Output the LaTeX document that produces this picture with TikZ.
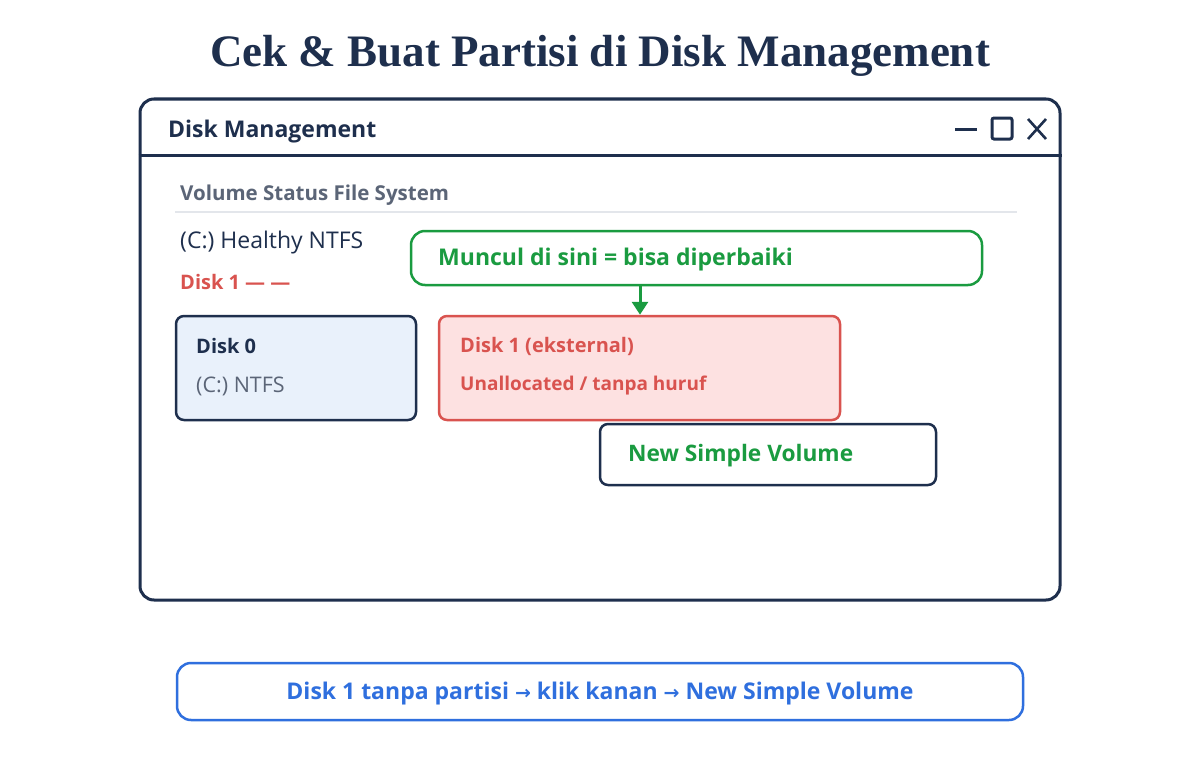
\documentclass[tikz,border=0pt]{standalone}
\usepackage{fontspec}
\setmainfont{Open Sans}
\newfontfamily\titlefont{Liberation Serif}
\newfontfamily\symfont{DejaVu Sans}
\usetikzlibrary{arrows.meta}
\definecolor{navy}{HTML}{1E2F4D}
\definecolor{grayt}{HTML}{5B6577}
\definecolor{redc}{HTML}{D9534F}
\definecolor{redfill}{HTML}{FDE1E1}
\definecolor{bluefill}{HTML}{E9F1FB}
\definecolor{greenc}{HTML}{1A9B40}
\definecolor{bluec}{HTML}{2F6FDE}
\definecolor{sepc}{HTML}{E3E6EB}
\begin{document}
\begin{tikzpicture}[x=1pt,y=-1pt,
  box/.style={draw, rounded corners=8pt, line width=2.5pt, inner sep=0pt},
  txt/.style={anchor=west, inner sep=0pt, font=\fontsize{20}{24}\selectfont},
  btxt/.style={anchor=west, inner sep=0pt, font=\fontsize{20}{24}\selectfont\bfseries}]
\useasboundingbox (0,0) rectangle (1200,760);
\fill[white] (0,0) rectangle (1200,760);
% title
\node[inner sep=0pt, text=navy, font=\titlefont\fontsize{45}{52}\selectfont\bfseries] (title) at (600,56) {Cek \& Buat Partisi di Disk Management};
% window
\node[box, draw=navy, line width=3pt, rounded corners=14pt, minimum width=920pt, minimum height=501pt] (win) at (600,349.5) {};
\draw[navy, line width=3pt] (win.west |- 0,155) -- (win.east |- 0,155);
\node[btxt, text=navy, font=\fontsize{23}{26}\selectfont\bfseries] (wintitle) at (168,132) {Disk Management};
\draw[navy, line width=3pt] (955,129) -- (977,129);
\draw[navy, line width=3pt, rounded corners=2pt] (992,118) rectangle (1012,139);
\draw[navy, line width=2.6pt] (1028,119) -- (1046,139) (1046,119) -- (1028,139);
% header
\node[btxt, text=grayt, font=\fontsize{20.5}{24}\selectfont\bfseries] (hdr) at (180,195) {Volume Status File System};
\draw[sepc, line width=2pt] (175,212) -- (1017,212);
\node[txt, text=navy, font=\fontsize{23}{26}\selectfont] (healthy) at (180,243) {(C:) Healthy NTFS};
\node[btxt, text=redc] (disk1line) at (180,282) {Disk 1 — —};
% disk 0
\node[box, draw=navy, fill=bluefill, minimum width=240pt, minimum height=104pt] (d0) at (296,368) {};
\node[btxt, text=navy] (d0a) at (196,346) {Disk 0};
\node[txt, text=grayt, font=\fontsize{21.5}{24}\selectfont] (d0b) at (196,386) {(C:) NTFS};
% disk 1
\node[box, draw=redc, fill=redfill, minimum width=401pt, minimum height=104pt] (d1) at (639.5,368) {};
\node[btxt, text=redc] (d1a) at (460,346) {Disk 1 (eksternal)};
\node[btxt, text=redc, font=\fontsize{19}{22}\selectfont\bfseries] (d1b) at (460,386) {Unallocated / tanpa huruf};
% callout
\node[box, draw=greenc, fill=white, rounded corners=14pt, minimum width=571pt, minimum height=54pt] (call) at (696.5,258) {};
\node[btxt, text=greenc, font=\fontsize{23}{26}\selectfont\bfseries] (callt) at (438,260) {Muncul di sini = bisa diperbaiki};
\coordinate (ax) at (640,0);
\draw[greenc, line width=3pt, -{Triangle[length=13pt,width=16pt]}] (call.south -| ax) -- (d1.north -| ax);
% new simple volume
\node[box, draw=navy, fill=white, minimum width=336pt, minimum height=61pt] (nsv) at (768,454.5) {};
\node[btxt, text=greenc, font=\fontsize{22.7}{26}\selectfont\bfseries] (nsvt) at (628,456) {New Simple Volume};
% bottom
\node[box, draw=bluec, fill=white, rounded corners=14pt, minimum width=846pt, minimum height=57pt] (bot) at (600,691.5) {};
\node[inner sep=0pt, text=bluec, font=\fontsize{23}{26}\selectfont\bfseries] (bott) at (600,694) {Disk 1 tanpa partisi {\symfont\fontsize{19}{22}\selectfont →} klik kanan {\symfont\fontsize{19}{22}\selectfont →} New Simple Volume};
\end{tikzpicture}
\end{document}
